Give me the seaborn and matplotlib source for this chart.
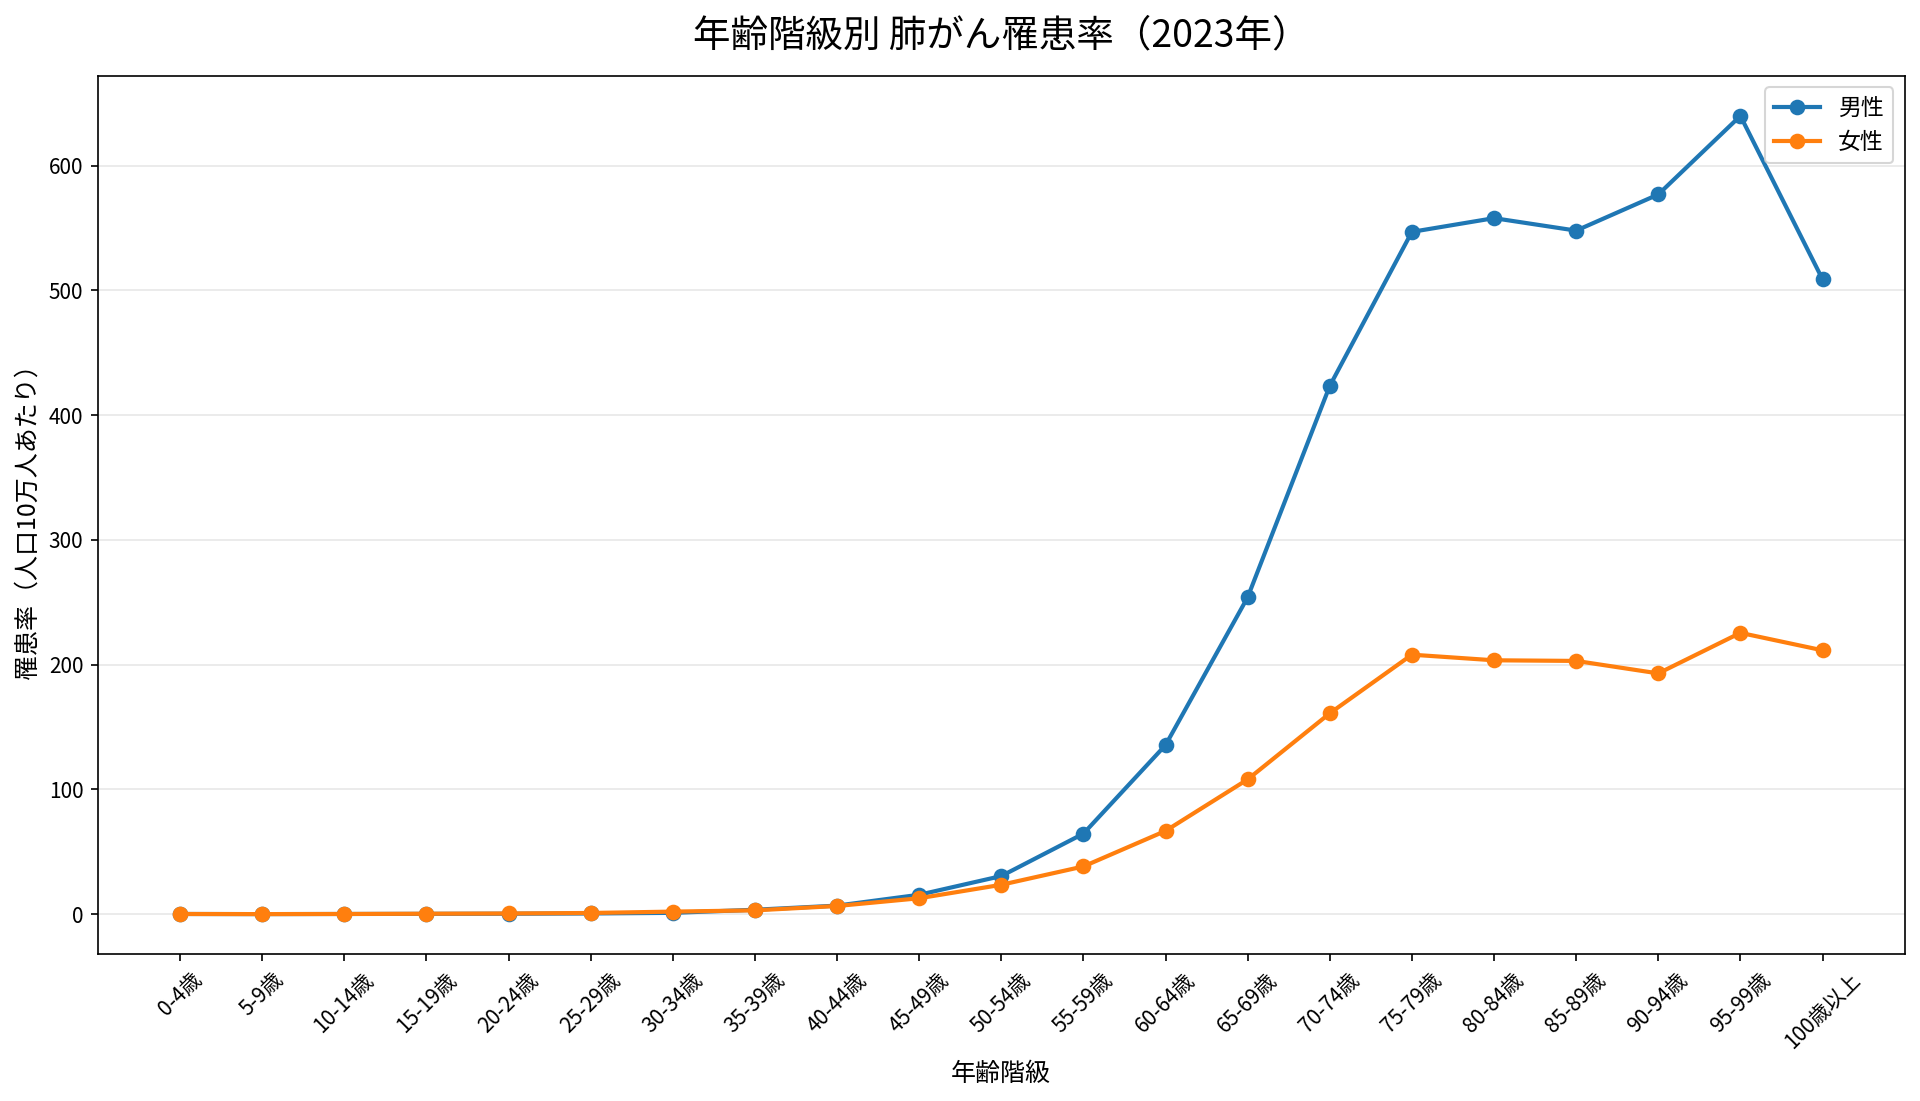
import matplotlib
matplotlib.use("Agg")
import matplotlib.pyplot as plt
import seaborn as sns
import pandas as pd

# Data
age_groups = ["0-4歳", "5-9歳", "10-14歳", "15-19歳", "20-24歳", "25-29歳",
              "30-34歳", "35-39歳", "40-44歳", "45-49歳", "50-54歳", "55-59歳",
              "60-64歳", "65-69歳", "70-74歳", "75-79歳", "80-84歳", "85-89歳",
              "90-94歳", "95-99歳", "100歳以上"]
male = [0.1, 0.0, 0.1, 0.2, 0.3, 0.5, 1.0, 3.5, 6.8, 15.5, 30.5, 64.5,
        135.5, 254.0, 423.5, 547.0, 558.0, 548.0, 577.0, 640.0, 509.0]
female = [0.1, 0.0, 0.1, 0.3, 0.5, 0.9, 2.0, 3.0, 6.5, 12.7, 23.5, 38.2,
          66.7, 108.0, 161.0, 208.0, 203.5, 203.0, 193.0, 225.5, 211.5]

df = pd.DataFrame({"年齢階級": age_groups, "男性": male, "女性": female})

plt.rcParams["font.family"] = ["Noto Sans CJK JP", "DejaVu Sans"]

fig, ax = plt.subplots(figsize=(12.8, 7.34), dpi=150)

sns.lineplot(data=df, x="年齢階級", y="男性", marker="o", markersize=7.5,
             markeredgewidth=0, linewidth=2, color="#1f77b4", label="男性",
             sort=False, ax=ax)
sns.lineplot(data=df, x="年齢階級", y="女性", marker="o", markersize=7.5,
             markeredgewidth=0, linewidth=2, color="#ff7f0e", label="女性",
             sort=False, ax=ax)

ax.set_title("年齢階級別 肺がん罹患率（2023年）", fontsize=18, pad=14)
ax.set_xlabel("年齢階級", fontsize=12)
ax.set_ylabel("罹患率（人口10万人あたり）", fontsize=12)
plt.xticks(rotation=45)
ax.grid(axis="y", alpha=0.3)
ax.legend(loc="upper right", fontsize=11)

fig.subplots_adjust(left=0.051, right=0.992, top=0.931, bottom=0.1335)
plt.savefig("out.png", dpi=150)
